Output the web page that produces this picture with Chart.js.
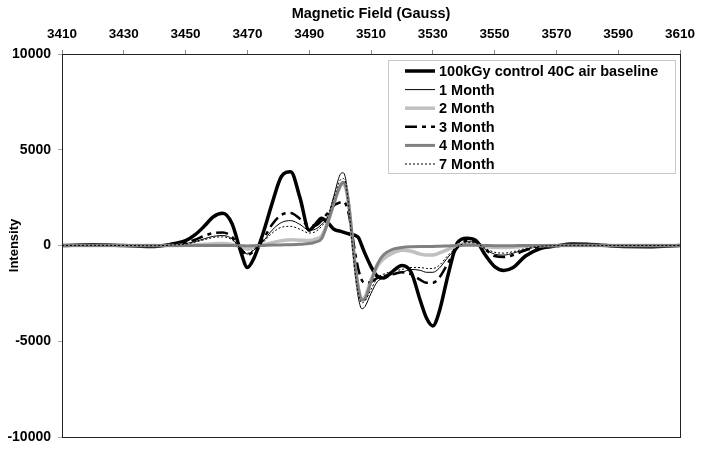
<!DOCTYPE html>
<html>
<head>
<meta charset="utf-8">
<script src="https://cdn.jsdelivr.net/npm/chart.js@4/dist/chart.umd.min.js"></script>
<style>
  html, body { margin: 0; padding: 0; background: #fff; }
  canvas { display: block; }
</style>
</head>
<body>
<canvas id="epr" width="701" height="450"></canvas>
<script>
// magnetic field positions (Gauss) where the spectra were read
const field = [3410,3420,3430,3440,3445,3450,3453,3456,3459,3462,3465,3468,3470,3472,3475,3478,3481,3484,3487,3490,
  3492,3494,3496,3498,3500,3501,3502,3503,3504,3505,3506,3507,3508,3510,3512,3514,3517,3520,3523,3526,
  3528,3530,3532,3535,3538,3541,3544,3547,3550,3553,3556,3560,3565,3570,3575,3580,3590,3600,3610];

const control = [0,40,0,-50,60,250,550,1000,1500,1680,1150,-400,-1150,-700,600,2200,3600,3850,2500,800,
  1100,1420,1200,850,750,700,650,600,560,520,400,0,-400,-1100,-1600,-1700,-1350,-1050,-1400,-2900,
  -3800,-4200,-3500,-1500,150,380,250,-500,-1100,-1300,-1150,-550,-150,-20,80,60,-40,-60,0];

const month1 = [0,10,0,-20,20,100,200,350,480,520,350,-200,-450,-250,200,800,1200,1300,1100,800,
  850,1100,1500,2600,3700,3800,3300,1800,-100,-1700,-2800,-3300,-3200,-2500,-1900,-1700,-1500,-1400,-1250,-1300,
  -1400,-1400,-1200,-600,-100,200,150,-200,-450,-500,-400,-200,-50,0,20,10,-10,-10,0];

const month2 = [0,0,0,0,0,10,30,60,90,100,60,-80,-200,-100,30,150,250,300,280,260,
  330,500,1200,2200,3100,3200,2900,1800,300,-1200,-2300,-2800,-2700,-1800,-1100,-700,-400,-250,-300,-450,
  -500,-500,-400,-200,0,100,50,-50,-100,-100,-80,-40,-10,0,0,0,0,0,0];

const month3 = [0,10,0,-20,30,150,300,500,650,680,450,-200,-500,-300,300,1100,1600,1700,1400,1050,
  1050,1300,1700,2100,2250,2300,2100,1500,500,-500,-1300,-1800,-1950,-1900,-1700,-1600,-1500,-1400,-1500,-1800,
  -1950,-1950,-1700,-900,-100,250,200,-200,-550,-600,-500,-250,-60,0,20,10,-10,-10,0];

const month4 = [0,0,0,0,0,0,0,0,0,0,0,-10,-20,-10,0,20,30,40,60,100,
  180,350,1200,2200,3100,3300,3000,1900,300,-1200,-2300,-2850,-2800,-1900,-1000,-500,-200,-100,-60,-50,
  -50,-50,-40,-20,0,10,10,0,-10,-10,-10,0,0,0,0,0,0,0,0];

const month7 = [0,10,0,-10,20,80,170,300,420,450,300,-180,-400,-220,150,650,950,1000,850,650,
  720,1000,1500,2500,3400,3500,3100,1700,-100,-1600,-2600,-3000,-2900,-2300,-1700,-1500,-1350,-1250,-1150,-1150,
  -1200,-1200,-1050,-500,-80,150,120,-150,-350,-400,-320,-160,-40,0,10,10,0,0,0];

const seriesNames = ['100kGy control 40C air baseline','1 Month','2 Month','3 Month','4 Month','7 Month'];
const xTicks = [3410,3430,3450,3470,3490,3510,3530,3550,3570,3590,3610];
const yTicks = [-10000,-5000,0,5000,10000];

const styles = [
  { color: '#000000', width: 3.5, dash: [] },
  { color: '#000000', width: 1, dash: [] },
  { color: '#c0c0c0', width: 3.5, dash: [] },
  { color: '#000000', width: 2.5, dash: [12,5,4,5] },
  { color: '#808080', width: 3, dash: [] },
  { color: '#000000', width: 1, dash: [2,2] }
];
const values = [control, month1, month2, month3, month4, month7];

const datasets = values.map((arr, i) => ({
  label: seriesNames[i],
  data: field.map((g, k) => ({ x: g, y: arr[k] })),
  borderColor: styles[i].color,
  borderWidth: styles[i].width,
  borderDash: styles[i].dash,
  pointRadius: 0,
  fill: false,
  cubicInterpolationMode: 'monotone',
  order: values.length - i
}));

// frame + legend box drawn by hand so they sit like the original
const framePlugin = {
  id: 'frame',
  afterDatasetsDraw(chart){
    const {ctx, chartArea: a} = chart;
    ctx.save();
    ctx.strokeStyle = '#222';
    ctx.lineWidth = 1;
    ctx.strokeRect(Math.round(a.left)+0.5, Math.round(a.top)+0.5, Math.round(a.right-a.left), Math.round(a.bottom-a.top));
    ctx.restore();
  },
  afterDraw(chart){
    const ctx = chart.ctx;
    const bx = 388, by = 60, bw = 287, bh = 113;
    ctx.save();
    ctx.fillStyle = '#fff';
    ctx.fillRect(bx, by, bw, bh);
    ctx.strokeStyle = '#c8c8c8';
    ctx.lineWidth = 1;
    ctx.strokeRect(bx+0.5, by+0.5, bw, bh);
    ctx.font = 'bold 14.5px "Liberation Sans", Arial, sans-serif';
    ctx.textBaseline = 'middle';
    ctx.fillStyle = '#000';
    chart.data.datasets.forEach((ds, i) => {
      const y = by + 11 + i * 18.6;
      ctx.beginPath();
      ctx.strokeStyle = ds.borderColor;
      ctx.lineWidth = ds.borderWidth;
      ctx.setLineDash(ds.borderDash || []);
      ctx.moveTo(405, y);
      ctx.lineTo(435, y);
      ctx.stroke();
      ctx.setLineDash([]);
      ctx.fillText(ds.label, 439, y + 1);
    });
    ctx.restore();
  }
};

const fam = '"Liberation Sans", Arial';

new Chart(document.getElementById('epr'), {
  type: 'line',
  data: { datasets },
  plugins: [framePlugin],
  options: {
    responsive: false,
    animation: false,
    devicePixelRatio: 1,
    layout: { padding: { left: 0, right: 21, top: 0, bottom: 13 } },
    plugins: { legend: { display: false }, tooltip: { enabled: false } },
    scales: {
      x: {
        type: 'linear',
        position: 'top',
        min: 3410, max: 3610,
        afterBuildTicks(s){ s.ticks = xTicks.map(v => ({ value: v })); },
        afterFit(s){ s.height = 54; s.paddingLeft = 0; s.paddingRight = 0; },
        grid: { drawOnChartArea: false, tickLength: 4, color: '#888' },
        border: { display: false },
        ticks: { color: '#000', padding: 8, maxRotation: 0, font: { family: fam, size: 13.5, weight: 'bold' }, callback: v => String(v) },
        title: { display: true, text: 'Magnetic Field (Gauss)', color: '#000', padding: { top: 5, bottom: 0 },
                 font: { family: fam, size: 14.5, weight: 'bold' } }
      },
      y: {
        type: 'linear',
        min: -10000, max: 10000,
        afterBuildTicks(s){ s.ticks = yTicks.map(v => ({ value: v })); },
        afterFit(s){ s.width = 62; s.paddingTop = 0; s.paddingBottom = 0; },
        grid: { drawOnChartArea: false, tickLength: 4, color: '#aaa' },
        border: { display: false },
        ticks: { color: '#000', padding: 7, font: { family: fam, size: 14, weight: 'bold' }, callback: v => String(v) },
        title: { display: true, text: 'Intensity', color: '#000', padding: { top: 7, bottom: 0 },
                 font: { family: fam, size: 13, weight: 'bold' } }
      }
    }
  }
});
</script>
</body>
</html>
